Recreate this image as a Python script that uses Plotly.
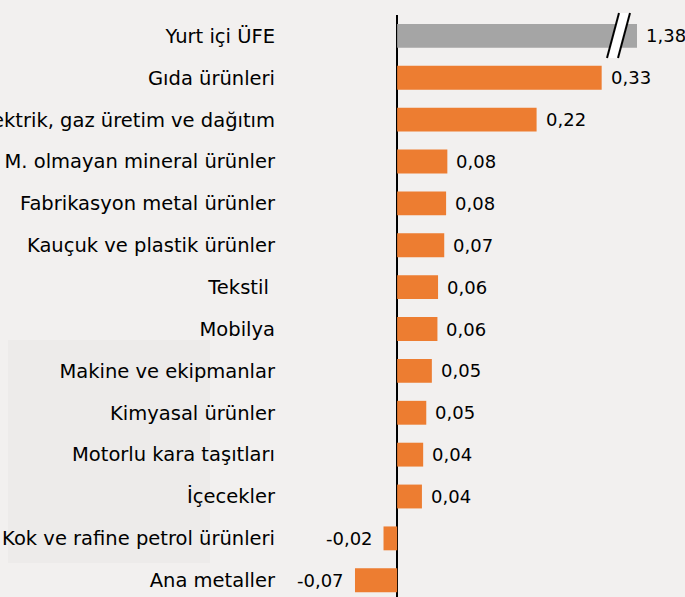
import plotly.graph_objects as go

categories = [
    "Yurt içi ÜFE",
    "Gıda ürünleri",
    "Elektrik, gaz üretim ve dağıtım",
    "M. olmayan mineral ürünler",
    "Fabrikasyon metal ürünler",
    "Kauçuk ve plastik ürünler",
    "Tekstil ",
    "Mobilya",
    "Makine ve ekipmanlar",
    "Kimyasal ürünler",
    "Motorlu kara taşıtları",
    "İçecekler",
    "Kok ve rafine petrol ürünleri",
    "Ana metaller",
]
values = [1.38, 0.33, 0.22, 0.08, 0.08, 0.07, 0.06, 0.06, 0.05, 0.05, 0.04, 0.04, -0.02, -0.07]
# widths as drawn (the chart is proportional for the small contributions)
drawn = [1.38, 0.33, 0.225, 0.081, 0.079, 0.076, 0.066, 0.065, 0.056, 0.047, 0.042, 0.040, -0.022, -0.068]
labels = [f"{v:.2f}".replace(".", ",") for v in values]
colors = ["#A5A5A5"] + ["#ED7D31"] * (len(values) - 1)

X_MIN, X_MAX = -0.189, 0.387
FONT = "DejaVu Sans"
FS_CAT = 19.5
FS_VAL = 18

# plot area in pixels
L, R, T, B = 280, 637, 15, 597
W, H = 685, 597


def px(x):
    return (x - L) / (R - L)


def py(y):
    return (B - y) / (B - T)


fig = go.Figure(
    go.Bar(
        y=categories,
        x=drawn,
        orientation="h",
        marker=dict(color=colors, line=dict(width=0)),
        width=0.57,
        hoverinfo="skip",
    )
)

annotations = []
for cat, d, lab in zip(categories, drawn, labels):
    xe = min(d, X_MAX)
    annotations.append(
        dict(
            x=xe, y=cat, xref="x", yref="y", text=lab, showarrow=False,
            xanchor="left" if d >= 0 else "right",
            xshift=7 if d >= 0 else -9,
            font=dict(family=FONT, size=FS_VAL, color="#000000"),
        )
    )

shapes = [
    # faint background panel on the left
    dict(type="rect", xref="paper", yref="paper", x0=px(8), x1=px(210), y0=py(563), y1=py(340),
         fillcolor="#EDEBEA", line=dict(width=0), layer="below"),
    # axis break marker on the truncated bar
    dict(type="path", xref="paper", yref="paper",
         path=f"M {px(607)} {py(58)} L {px(619)} {py(13)} L {px(630)} {py(13)} L {px(618)} {py(58)} Z",
         fillcolor="#FFFFFF", line=dict(width=0), layer="above"),
    dict(type="line", xref="paper", yref="paper", x0=px(607), y0=py(58), x1=px(619), y1=py(13),
         line=dict(color="#000000", width=2), layer="above"),
    dict(type="line", xref="paper", yref="paper", x0=px(618), y0=py(58), x1=px(630), y1=py(13),
         line=dict(color="#000000", width=2), layer="above"),
]

fig.update_layout(
    width=W, height=H,
    margin=dict(l=L, r=W - R, t=T, b=H - B, pad=0, autoexpand=False),
    paper_bgcolor="#F2F0EF",
    plot_bgcolor="rgba(0,0,0,0)",
    showlegend=False,
    annotations=annotations,
    shapes=shapes,
    font=dict(family=FONT, size=FS_CAT, color="#000000"),
    xaxis=dict(
        range=[X_MIN, X_MAX], showgrid=False, showticklabels=False, ticks="",
        zeroline=True, zerolinecolor="#000000", zerolinewidth=2, layer="above traces",
        showline=False, fixedrange=True, automargin=False,
    ),
    yaxis=dict(
        type="category", categoryarray=categories, range=[13.4, -0.5],
        showgrid=False, ticks="", showline=False, zeroline=False,
        tickfont=dict(family=FONT, size=FS_CAT, color="#000000"),
        ticklabelstandoff=4, automargin=False, fixedrange=True,
    ),
)

fig.write_html(
    "out.html",
    config={"displayModeBar": False, "staticPlot": True},
    post_script="document.body.style.margin='0';document.body.style.overflow='hidden';",
)
